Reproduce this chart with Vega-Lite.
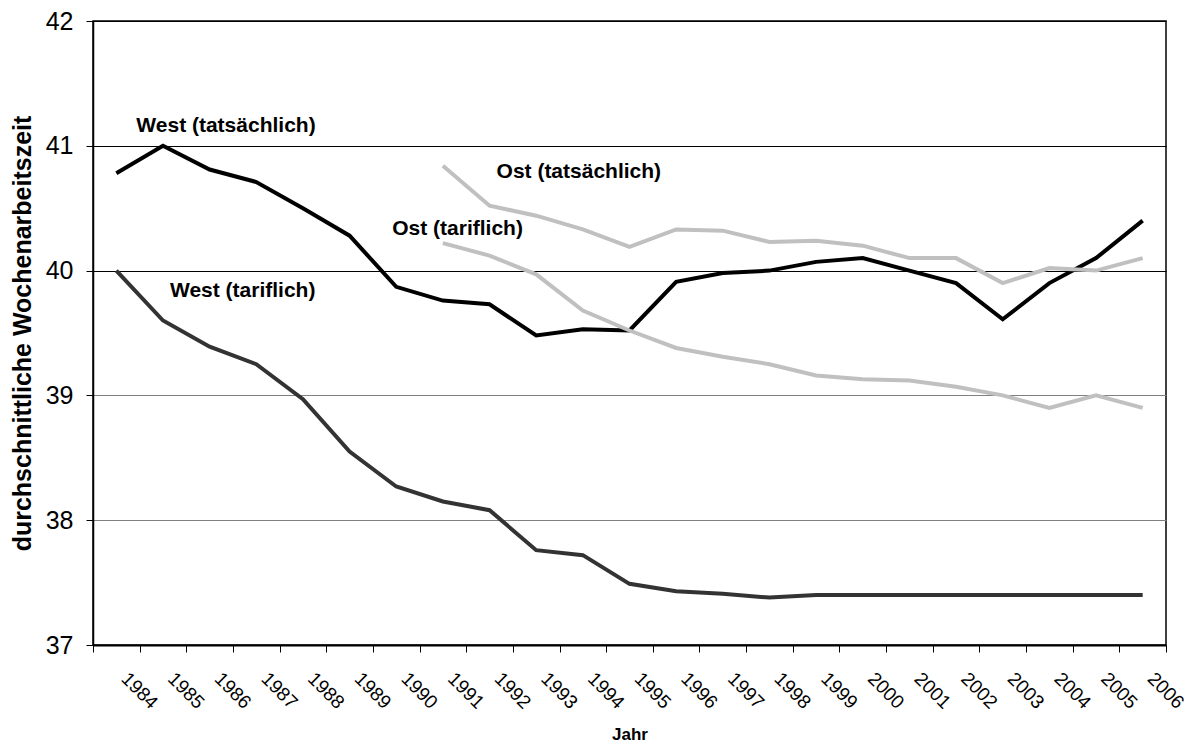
{
  "$schema": "https://vega.github.io/schema/vega-lite/v6.json",
  "width": 1073,
  "height": 624,
  "autosize": {"type": "none"},
  "padding": {"left": 93, "top": 21, "right": 26, "bottom": 97},
  "background": "white",
  "config": {
    "font": "Liberation Sans",
    "view": {"stroke": "black", "strokeWidth": 1.5}
  },
  "datasets": {
    "series": [
      {"year": 1984, "series": "West (tariflich)", "value": 40.0},
      {"year": 1985, "series": "West (tariflich)", "value": 39.6},
      {"year": 1986, "series": "West (tariflich)", "value": 39.39},
      {"year": 1987, "series": "West (tariflich)", "value": 39.25},
      {"year": 1988, "series": "West (tariflich)", "value": 38.97},
      {"year": 1989, "series": "West (tariflich)", "value": 38.55},
      {"year": 1990, "series": "West (tariflich)", "value": 38.27},
      {"year": 1991, "series": "West (tariflich)", "value": 38.15},
      {"year": 1992, "series": "West (tariflich)", "value": 38.08},
      {"year": 1993, "series": "West (tariflich)", "value": 37.76},
      {"year": 1994, "series": "West (tariflich)", "value": 37.72},
      {"year": 1995, "series": "West (tariflich)", "value": 37.49},
      {"year": 1996, "series": "West (tariflich)", "value": 37.43},
      {"year": 1997, "series": "West (tariflich)", "value": 37.41},
      {"year": 1998, "series": "West (tariflich)", "value": 37.38},
      {"year": 1999, "series": "West (tariflich)", "value": 37.4},
      {"year": 2000, "series": "West (tariflich)", "value": 37.4},
      {"year": 2001, "series": "West (tariflich)", "value": 37.4},
      {"year": 2002, "series": "West (tariflich)", "value": 37.4},
      {"year": 2003, "series": "West (tariflich)", "value": 37.4},
      {"year": 2004, "series": "West (tariflich)", "value": 37.4},
      {"year": 2005, "series": "West (tariflich)", "value": 37.4},
      {"year": 2006, "series": "West (tariflich)", "value": 37.4},
      {"year": 1984, "series": "West (tatsächlich)", "value": 40.78},
      {"year": 1985, "series": "West (tatsächlich)", "value": 41.0},
      {"year": 1986, "series": "West (tatsächlich)", "value": 40.81},
      {"year": 1987, "series": "West (tatsächlich)", "value": 40.71},
      {"year": 1988, "series": "West (tatsächlich)", "value": 40.5},
      {"year": 1989, "series": "West (tatsächlich)", "value": 40.28},
      {"year": 1990, "series": "West (tatsächlich)", "value": 39.87},
      {"year": 1991, "series": "West (tatsächlich)", "value": 39.76},
      {"year": 1992, "series": "West (tatsächlich)", "value": 39.73},
      {"year": 1993, "series": "West (tatsächlich)", "value": 39.48},
      {"year": 1994, "series": "West (tatsächlich)", "value": 39.53},
      {"year": 1995, "series": "West (tatsächlich)", "value": 39.52},
      {"year": 1996, "series": "West (tatsächlich)", "value": 39.91},
      {"year": 1997, "series": "West (tatsächlich)", "value": 39.98},
      {"year": 1998, "series": "West (tatsächlich)", "value": 40.0},
      {"year": 1999, "series": "West (tatsächlich)", "value": 40.07},
      {"year": 2000, "series": "West (tatsächlich)", "value": 40.1},
      {"year": 2001, "series": "West (tatsächlich)", "value": 40.0},
      {"year": 2002, "series": "West (tatsächlich)", "value": 39.9},
      {"year": 2003, "series": "West (tatsächlich)", "value": 39.61},
      {"year": 2004, "series": "West (tatsächlich)", "value": 39.9},
      {"year": 2005, "series": "West (tatsächlich)", "value": 40.1},
      {"year": 2006, "series": "West (tatsächlich)", "value": 40.4},
      {"year": 1991, "series": "Ost (tariflich)", "value": 40.22},
      {"year": 1992, "series": "Ost (tariflich)", "value": 40.12},
      {"year": 1993, "series": "Ost (tariflich)", "value": 39.97},
      {"year": 1994, "series": "Ost (tariflich)", "value": 39.68},
      {"year": 1995, "series": "Ost (tariflich)", "value": 39.52},
      {"year": 1996, "series": "Ost (tariflich)", "value": 39.38},
      {"year": 1997, "series": "Ost (tariflich)", "value": 39.31},
      {"year": 1998, "series": "Ost (tariflich)", "value": 39.25},
      {"year": 1999, "series": "Ost (tariflich)", "value": 39.16},
      {"year": 2000, "series": "Ost (tariflich)", "value": 39.13},
      {"year": 2001, "series": "Ost (tariflich)", "value": 39.12},
      {"year": 2002, "series": "Ost (tariflich)", "value": 39.07},
      {"year": 2003, "series": "Ost (tariflich)", "value": 39.0},
      {"year": 2004, "series": "Ost (tariflich)", "value": 38.9},
      {"year": 2005, "series": "Ost (tariflich)", "value": 39.0},
      {"year": 2006, "series": "Ost (tariflich)", "value": 38.9},
      {"year": 1991, "series": "Ost (tatsächlich)", "value": 40.84},
      {"year": 1992, "series": "Ost (tatsächlich)", "value": 40.52},
      {"year": 1993, "series": "Ost (tatsächlich)", "value": 40.44},
      {"year": 1994, "series": "Ost (tatsächlich)", "value": 40.33},
      {"year": 1995, "series": "Ost (tatsächlich)", "value": 40.19},
      {"year": 1996, "series": "Ost (tatsächlich)", "value": 40.33},
      {"year": 1997, "series": "Ost (tatsächlich)", "value": 40.32},
      {"year": 1998, "series": "Ost (tatsächlich)", "value": 40.23},
      {"year": 1999, "series": "Ost (tatsächlich)", "value": 40.24},
      {"year": 2000, "series": "Ost (tatsächlich)", "value": 40.2},
      {"year": 2001, "series": "Ost (tatsächlich)", "value": 40.1},
      {"year": 2002, "series": "Ost (tatsächlich)", "value": 40.1},
      {"year": 2003, "series": "Ost (tatsächlich)", "value": 39.9},
      {"year": 2004, "series": "Ost (tatsächlich)", "value": 40.02},
      {"year": 2005, "series": "Ost (tatsächlich)", "value": 40.0},
      {"year": 2006, "series": "Ost (tatsächlich)", "value": 40.1}
    ],
    "labels": [
      {"label": "West (tatsächlich)", "year": 1984, "value": 41.155},
      {"label": "West (tariflich)", "year": 1985, "value": 39.835},
      {"label": "Ost (tatsächlich)", "year": 1992, "value": 40.79},
      {"label": "Ost (tariflich)", "year": 1990, "value": 40.33}
    ]
  },
  "layer": [
    {
      "data": {"name": "series"},
      "mark": {"type": "line", "strokeWidth": 4},
      "encoding": {
        "x": {
          "field": "year",
          "type": "ordinal",
          "scale": {"type": "band", "paddingInner": 0, "paddingOuter": 0},
          "axis": {
            "title": "Jahr",
            "labelAngle": 45,
            "labelAlign": "left",
            "labelBaseline": "top",
            "labelFontSize": 19,
            "labelOffset": 14,
            "labelPadding": 17,
            "labelColor": "black",
            "tickSize": 7,
            "tickBand": "extent",
            "tickColor": "black",
            "domainColor": "black",
            "domainWidth": 2,
            "grid": false,
            "titleFontSize": 17,
            "titleFontWeight": "bold",
            "titleColor": "black",
            "titleY": 89,
            "titleBaseline": "middle"
          }
        },
        "y": {
          "field": "value",
          "type": "quantitative",
          "scale": {"domain": [37, 42], "zero": false, "nice": false},
          "axis": {
            "title": "durchschnittliche Wochenarbeitszeit",
            "values": [37, 38, 39, 40, 41, 42],
            "format": "d",
            "labelFontSize": 25,
            "labelPadding": 13,
            "labelColor": "black",
            "tickSize": 7,
            "tickColor": "black",
            "domainColor": "black",
            "domainWidth": 1.5,
            "grid": true,
            "gridColor": {"condition": {"test": "datum.value <= 39", "value": "#808080"}, "value": "black"},
            "gridWidth": 1,
            "titleFontSize": 25,
            "titleFontWeight": "bold",
            "titleColor": "black",
            "titleX": -71,
            "titleY": 312,
            "titleAlign": "center",
            "titleBaseline": "middle"
          }
        },
        "color": {
          "field": "series",
          "type": "nominal",
          "scale": {
            "domain": ["West (tariflich)", "West (tatsächlich)", "Ost (tariflich)", "Ost (tatsächlich)"],
            "range": ["#333333", "#000000", "#c0c0c0", "#c0c0c0"]
          },
          "legend": null
        }
      }
    },
    {
      "data": {"name": "labels"},
      "transform": [{"filter": "datum.label === 'West (tatsächlich)'"}],
      "mark": {"type": "text", "align": "left", "baseline": "middle", "dx": 20, "fontSize": 21, "fontWeight": "bold", "color": "black"},
      "encoding": {
        "x": {"field": "year", "type": "ordinal", "scale": {"type": "band", "paddingInner": 0, "paddingOuter": 0}},
        "y": {"field": "value", "type": "quantitative"},
        "text": {"field": "label"}
      }
    },
    {
      "data": {"name": "labels"},
      "transform": [{"filter": "datum.label === 'West (tariflich)'"}],
      "mark": {"type": "text", "align": "left", "baseline": "middle", "dx": 7, "fontSize": 21, "fontWeight": "bold", "color": "black"},
      "encoding": {
        "x": {"field": "year", "type": "ordinal", "scale": {"type": "band", "paddingInner": 0, "paddingOuter": 0}},
        "y": {"field": "value", "type": "quantitative"},
        "text": {"field": "label"}
      }
    },
    {
      "data": {"name": "labels"},
      "transform": [{"filter": "datum.label === 'Ost (tatsächlich)'"}],
      "mark": {"type": "text", "align": "left", "baseline": "middle", "dx": 7, "fontSize": 21, "fontWeight": "bold", "color": "black"},
      "encoding": {
        "x": {"field": "year", "type": "ordinal", "scale": {"type": "band", "paddingInner": 0, "paddingOuter": 0}},
        "y": {"field": "value", "type": "quantitative"},
        "text": {"field": "label"}
      }
    },
    {
      "data": {"name": "labels"},
      "transform": [{"filter": "datum.label === 'Ost (tariflich)'"}],
      "mark": {"type": "text", "align": "left", "baseline": "middle", "dx": -4, "fontSize": 21, "fontWeight": "bold", "color": "black"},
      "encoding": {
        "x": {"field": "year", "type": "ordinal", "scale": {"type": "band", "paddingInner": 0, "paddingOuter": 0}},
        "y": {"field": "value", "type": "quantitative"},
        "text": {"field": "label"}
      }
    }
  ]
}
